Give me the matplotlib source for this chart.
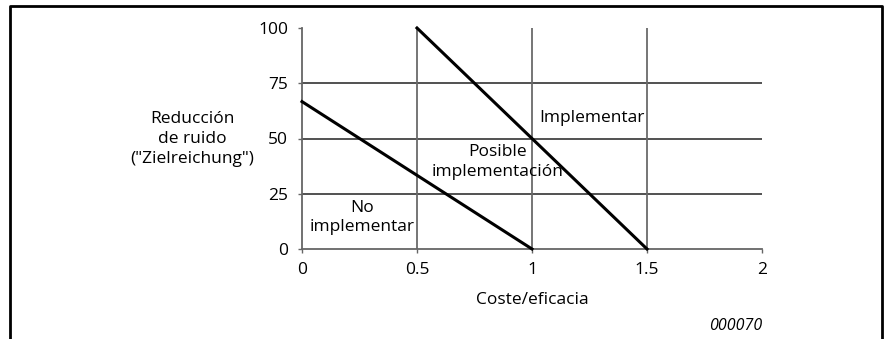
import matplotlib.pyplot as plt
from matplotlib.lines import Line2D

plt.rcParams['font.family'] = ['Open Sans', 'DejaVu Sans']

# umbrales de decisión
x_ticks = [0, 0.5, 1, 1.5, 2]
x_tick_labels = ['0', '0.5', '1', '1.5', '2']
y_ticks = [0, 25, 50, 75, 100]
h_grid = [25, 50, 75]
v_grid = [0.5, 1, 1.5]

linea_baja_x = [0, 1]
linea_baja_y = [66.7, 0]
linea_alta_x = [0.5, 1.5]
linea_alta_y = [100, 0]

fs = 12.5
ls = 1.3

fig = plt.figure(figsize=(8.87, 3.39), dpi=100)
ax = fig.add_axes([302 / 887, 1 - 249 / 339, 460 / 887, 221 / 339])

ax.hlines(h_grid, 0, 2, color='#222222', lw=1.1, zorder=1)
ax.vlines(v_grid, 0, 100, color='#6a6a6a', lw=1.3, zorder=1)

ax.plot(linea_baja_x, linea_baja_y, color='black', lw=2.2, clip_on=False, zorder=3)
ax.plot(linea_alta_x, linea_alta_y, color='black', lw=2.2, clip_on=False, zorder=3)

ax.set_xlim(0, 2)
ax.set_ylim(0, 100)
ax.set_xticks(x_ticks)
ax.set_xticklabels(x_tick_labels)
ax.set_yticks(y_ticks)
for s in ['top', 'right']:
    ax.spines[s].set_visible(False)
for s in ['left', 'bottom']:
    ax.spines[s].set_color('#666666')
    ax.spines[s].set_linewidth(1.3)
ax.tick_params(length=3, width=1, color='#666666', labelsize=fs)
ax.tick_params(axis='x', pad=6)
ax.tick_params(axis='y', pad=7)

ax.text(1.03, 59.5, 'Implementar', fontsize=fs, ha='left', va='center')
ax.text(0.85, 39.5, 'Posible\nimplementación', fontsize=fs, ha='center', va='center',
        linespacing=ls)
ax.text(0.26, 14.3, 'No\nimplementar', fontsize=fs, ha='center', va='center',
        linespacing=ls)

fig.text(192 / 887, 1 - 139 / 339, 'Reducción\nde ruido\n("Zielreichung")', fontsize=fs,
         ha='center', va='center', linespacing=ls)
fig.text(532 / 887, 1 - 300 / 339, 'Coste/eficacia', fontsize=fs, ha='center', va='center')
fig.text(762 / 887, 1 - 326 / 339, '000070', fontsize=11.5, style='italic',
         ha='right', va='center')

# marco exterior abierto por abajo
fig.add_artist(Line2D([10 / 887, 10 / 887, 882 / 887, 882 / 887],
                      [0, 1 - 6 / 339, 1 - 6 / 339, 0],
                      transform=fig.transFigure, color='black', lw=2))

fig.savefig('out.png', dpi=100)
